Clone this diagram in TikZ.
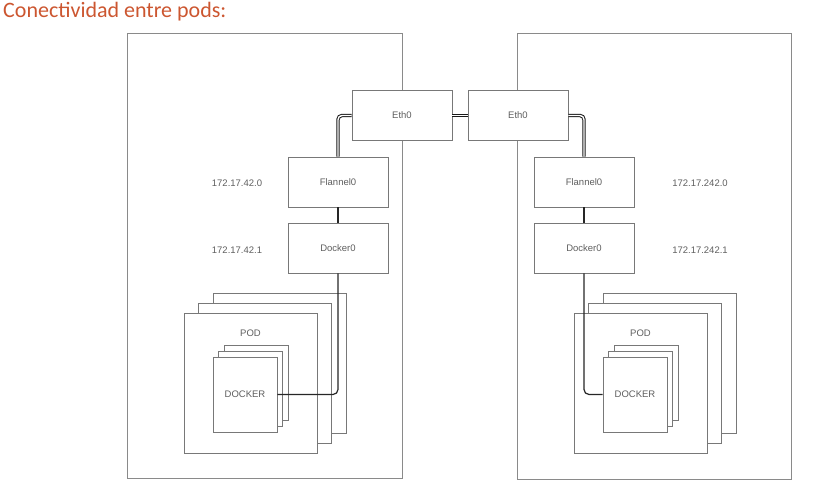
\documentclass[tikz,border=0pt]{standalone}
\usepackage{fontspec}
\setmainfont{Liberation Sans}
\newfontfamily\titlefont{Carlito}
\usepackage{tikz}
\usetikzlibrary{positioning}

\definecolor{titlered}{RGB}{204,86,48}
\definecolor{hostgray}{RGB}{138,138,138}
\definecolor{boxgray}{RGB}{120,120,120}
\definecolor{textgray}{RGB}{95,95,95}

\tikzset{
    host/.style={draw=hostgray, line width=1pt},
    iface/.style={draw=boxgray, fill=white, line width=0.8pt, minimum width=100pt, minimum height=50pt, inner sep=0pt},
    podbox/.style={draw=boxgray, fill=white, line width=0.8pt, minimum width=133pt, minimum height=140pt, inner sep=0pt},
    dockbox/.style={draw=boxgray, fill=white, line width=0.8pt, minimum width=64pt, minimum height=75pt, inner sep=0pt},
    lbl/.style={text=textgray, font=\fontsize{9.5}{11}\selectfont, inner sep=0pt},
    pipe/.style={draw=black!90, line width=1pt, double=white, double distance=1.4pt, rounded corners=4pt},
    wire/.style={draw=black!85, line width=1.2pt, rounded corners=5pt}
}

\begin{document}
\begin{tikzpicture}[x=1pt, y=-1pt]
    \useasboundingbox (0, 0) rectangle (822, 487);
    \node[anchor=base west, text=titlered, inner sep=0pt, font=\titlefont\fontsize{22}{25}\selectfont] (title) at (3, 18) {Conectividad entre pods:};

    % hosts
    \draw[host] (127, 34) rectangle (402, 478);
    \draw[host] (517, 34) rectangle (791, 479);

    \node[iface, lbl] (ethL) at (402, 115.5) {Eth0};
    \node[iface, lbl] (ethR) at (518, 115.5) {Eth0};

    \node[iface, lbl] (flannelL) at (338, 182) {Flannel0};
    \node[iface, lbl] (dockerL) at (338, 248) {Docker0};
    \node[iface, lbl] (flannelR) at (584, 182) {Flannel0};
    \node[iface, lbl] (dockerR) at (584, 248) {Docker0};

    \node[lbl] (ipFlannelL) at (237, 183) {172.17.42.0};
    \node[lbl] (ipDockerL) at (237, 250) {172.17.42.1};
    \node[lbl] (ipFlannelR) at (700, 183) {172.17.242.0};
    \node[lbl] (ipDockerR) at (700, 250) {172.17.242.1};

    % pods
    \foreach \side/\px in {L/250.5, R/640.5} {
        \node[podbox] (pod\side3) at (\px + 29, 363) {};
        \node[podbox] (pod\side2) at (\px + 14.5, 373.5) {};
        \node[podbox] (pod\side1) at (\px, 383) {};
        \node[lbl] (podlbl\side) at (\px, 333) {POD};
        \node[dockbox] (dk\side3) at (\px + 5.5, 382.5) {};
        \node[dockbox] (dk\side2) at (\px, 388.5) {};
        \node[dockbox, lbl] (dk\side1) at (\px - 5.5, 394.5) {DOCKER};
    }

    % links
    \draw[pipe] (ethL.east) -- (ethR.west);
    \draw[pipe] (ethL.west) -| (flannelL.north);
    \draw[pipe] (ethR.east) -| (flannelR.north);
    \draw[wire] (flannelL.south) -- (dockerL.north);
    \draw[wire] (flannelR.south) -- (dockerR.north);
    \draw[wire] (dockerL.south) |- (dkL1.east);
    \draw[wire] (dockerR.south) |- (dkR1.west);
\end{tikzpicture}
\end{document}
